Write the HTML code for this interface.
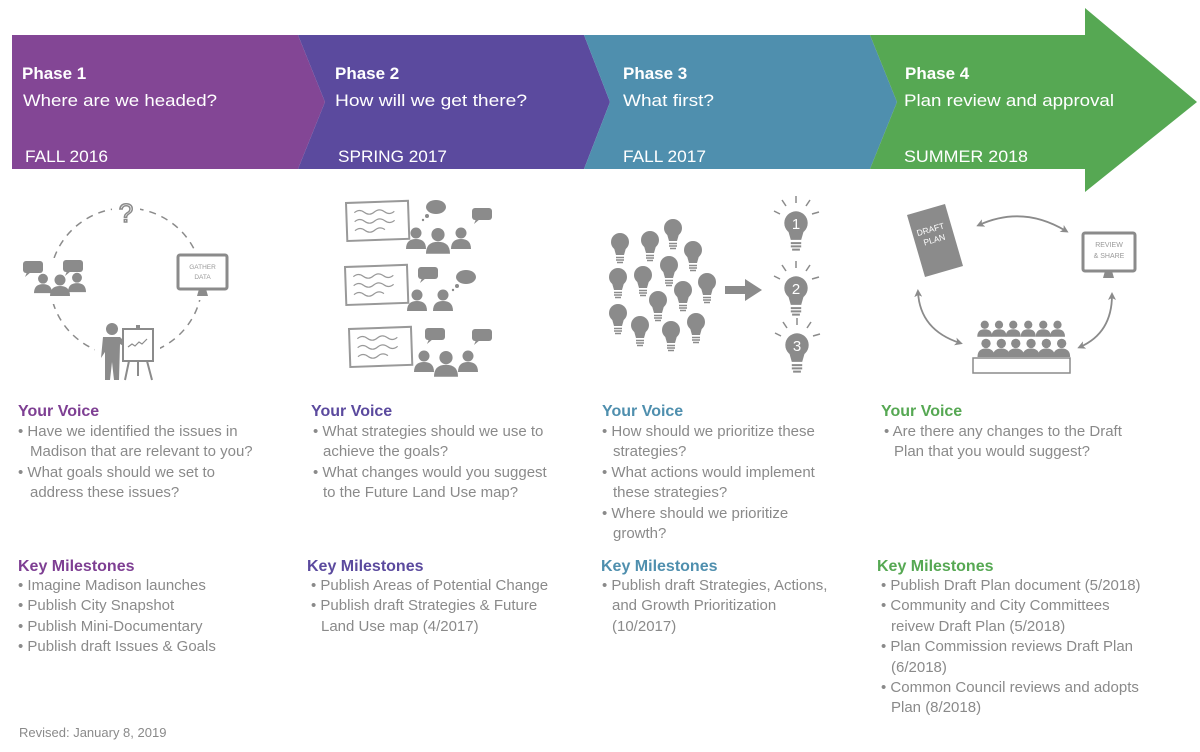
<!DOCTYPE html>
<html><head><meta charset="utf-8"><style>
html,body{margin:0;padding:0;background:#fff;}
svg{display:block;}
.h{font-family:"Liberation Sans",sans-serif;fill:#fff;}
.t{font-family:"Liberation Sans",sans-serif;font-size:15px;fill:#8a8a8a;}
.b{font-family:"Liberation Sans",sans-serif;font-size:16px;font-weight:bold;}
</style></head><body>
<svg width="1200" height="752" viewBox="0 0 1200 752" xmlns="http://www.w3.org/2000/svg">
<defs>
<g id="p"><circle cx="0" cy="-7" r="5.5" fill="#8b8b8b"/><path d="M-10,9 Q-10,-1 0,-1 Q10,-1 10,9 Z" fill="#8b8b8b"/></g>
<g id="bulb"><circle cx="0" cy="0" r="9" fill="#8b8b8b"/><path d="M-6,6 L-4,13 L4,13 L6,6 Z" fill="#8b8b8b"/><path d="M-4,15.5 H4 M-4,18 H4 M-3,20.5 H3" stroke="#8b8b8b" stroke-width="1.5"/></g>
<g id="sb"><rect x="-10" y="-6" width="20" height="12" rx="3" fill="#8b8b8b"/><path d="M-6,5 L-8,10 L-2,5 Z" fill="#8b8b8b"/></g>
<g id="tb"><ellipse cx="0" cy="0" rx="10" ry="7" fill="#8b8b8b"/><circle cx="-9" cy="9" r="2" fill="#8b8b8b"/><circle cx="-13" cy="13" r="1.2" fill="#8b8b8b"/></g>
<g id="board"><rect x="0" y="0" width="62" height="38" fill="#fff" stroke="#999" stroke-width="2"/><path d="M8,10 q5,-4 10,0 t10,0 t10,0 t10,0 M8,19 q5,-4 10,0 t10,0 t10,0 t10,0 M8,28 q5,-4 10,0 t10,0 t10,0" fill="none" stroke="#999" stroke-width="1.2"/></g>
<marker id="ah" markerWidth="8" markerHeight="8" refX="5" refY="4" orient="auto-start-reverse" markerUnits="userSpaceOnUse"><path d="M0,0 L8,4 L0,8 L2,4 Z" fill="#8b8b8b"/></marker>
</defs>

<!-- banner -->
<polygon points="12,35 298,35 325,102 298,169 12,169" fill="#834695"/>
<polygon points="298,35 584,35 610,102 584,169 298,169 325,102" fill="#5b4a9e"/>
<polygon points="584,35 870,35 897,102 870,169 584,169 610,102" fill="#4f8fae"/>
<polygon points="870,35 1085,35 1085,8 1197,102 1085,192 1085,169 870,169 897,102" fill="#56a853"/>

<text class="h" x="22" y="79" font-size="17" font-weight="bold">Phase 1</text>
<text class="h" x="23" y="106" font-size="17" textLength="194" lengthAdjust="spacingAndGlyphs">Where are we headed?</text>
<text class="h" x="25" y="162" font-size="17" textLength="83" lengthAdjust="spacingAndGlyphs">FALL 2016</text>
<text class="h" x="335" y="79" font-size="17" font-weight="bold">Phase 2</text>
<text class="h" x="335" y="106" font-size="17" textLength="192" lengthAdjust="spacingAndGlyphs">How will we get there?</text>
<text class="h" x="338" y="162" font-size="17" textLength="109" lengthAdjust="spacingAndGlyphs">SPRING 2017</text>
<text class="h" x="623" y="79" font-size="17" font-weight="bold">Phase 3</text>
<text class="h" x="623" y="106" font-size="17" textLength="91" lengthAdjust="spacingAndGlyphs">What first?</text>
<text class="h" x="623" y="162" font-size="17" textLength="83" lengthAdjust="spacingAndGlyphs">FALL 2017</text>
<text class="h" x="905" y="79" font-size="17" font-weight="bold">Phase 4</text>
<text class="h" x="904" y="106" font-size="17" textLength="210" lengthAdjust="spacingAndGlyphs">Plan review and approval</text>
<text class="h" x="904" y="162" font-size="17" textLength="124" lengthAdjust="spacingAndGlyphs">SUMMER 2018</text>

<!-- col1 icon -->
<ellipse cx="126" cy="282" rx="76" ry="74" fill="none" stroke="#8b8b8b" stroke-width="1.5" stroke-dasharray="7,6"/>
<rect x="112" y="198" width="28" height="28" fill="#fff"/>
<text x="126" y="222" font-family="Liberation Sans,sans-serif" font-size="26" fill="#fff" stroke="#8b8b8b" stroke-width="1.5" text-anchor="middle">?</text>
<rect x="20" y="258" width="68" height="46" fill="#fff"/>
<use href="#sb" x="33" y="267"/><use href="#sb" x="73" y="266"/>
<g transform="translate(43,285) scale(0.9)"><use href="#p"/></g>
<g transform="translate(77,284) scale(0.9)"><use href="#p"/></g>
<g transform="translate(60,287)"><use href="#p"/></g>
<rect x="172" y="250" width="60" height="50" fill="#fff"/>
<rect x="178" y="255" width="49" height="34" rx="2" fill="#fff" stroke="#8b8b8b" stroke-width="3"/>
<path d="M199,289 L206,289 L208,296 L197,296 Z" fill="#8b8b8b"/>
<text x="202.5" y="269" font-family="Liberation Sans,sans-serif" font-size="6.5" fill="#999" text-anchor="middle">GATHER</text>
<text x="202.5" y="279" font-family="Liberation Sans,sans-serif" font-size="6.5" fill="#999" text-anchor="middle">DATA</text>
<rect x="95" y="318" width="65" height="64" fill="#fff"/>
<circle cx="112" cy="329" r="6" fill="#8b8b8b"/>
<path d="M103,337 L120,337 L128,345 L127,348 L120,344 L119,380 L114,380 L112,362 L110,380 L105,380 L105,352 L101,358 Z" fill="#8b8b8b"/>
<rect x="123" y="329" width="30" height="32" fill="#fff" stroke="#8b8b8b" stroke-width="2"/>
<rect x="136" y="325" width="4" height="4" fill="#8b8b8b"/>
<path d="M128,347 l4,-3 l3,2 l4,-4 l3,2 l5,-5" fill="none" stroke="#8b8b8b" stroke-width="1.2"/>
<path d="M129,361 L125,380 M147,361 L152,380 M138,361 L138,376" stroke="#8b8b8b" stroke-width="2"/>

<!-- col2 icon -->
<g transform="translate(346,203) rotate(-2)"><use href="#board"/></g>
<use href="#tb" x="436" y="207"/><use href="#sb" x="482" y="214"/>
<use href="#p" x="416" y="240"/><use href="#p" x="461" y="240"/>
<g transform="translate(438,243) scale(1.2)"><use href="#p"/></g>
<g transform="translate(345,267) rotate(-2)"><use href="#board"/></g>
<use href="#sb" x="428" y="273"/><use href="#tb" x="466" y="277"/>
<use href="#p" x="417" y="302"/><use href="#p" x="443" y="302"/>
<g transform="translate(349,329) rotate(-2)"><use href="#board"/></g>
<use href="#sb" x="435" y="334"/><use href="#sb" x="482" y="335"/>
<use href="#p" x="424" y="363"/><use href="#p" x="468" y="363"/>
<g transform="translate(446,366) scale(1.2)"><use href="#p"/></g>

<!-- col3 icon -->
<use href="#bulb" x="620" y="242"/><use href="#bulb" x="650" y="240"/><use href="#bulb" x="673" y="228"/><use href="#bulb" x="693" y="250"/>
<use href="#bulb" x="618" y="277"/><use href="#bulb" x="643" y="275"/><use href="#bulb" x="669" y="265"/><use href="#bulb" x="707" y="282"/>
<use href="#bulb" x="683" y="290"/><use href="#bulb" x="658" y="300"/><use href="#bulb" x="618" y="313"/><use href="#bulb" x="640" y="325"/>
<use href="#bulb" x="671" y="330"/><use href="#bulb" x="696" y="322"/>
<path d="M725,286 H745 V279 L762,290 L745,301 V294 H725 Z" fill="#8b8b8b"/>
<g transform="translate(796,223) scale(1.3)"><use href="#bulb"/></g>
<g transform="translate(796,288) scale(1.3)"><use href="#bulb"/></g>
<g transform="translate(797,345) scale(1.3)"><use href="#bulb"/></g>
<g stroke="#8b8b8b" stroke-width="1.5">
<path d="M780,214 l-6,-3 M786,206 l-4,-6 M796,203 v-7 M806,206 l4,-6 M812,214 l7,-2"/>
<path d="M780,279 l-6,-3 M786,271 l-4,-6 M796,268 v-7 M806,271 l4,-6 M812,279 l7,-2"/>
<path d="M781,336 l-6,-3 M787,328 l-4,-6 M797,325 v-7 M807,328 l4,-6 M813,336 l7,-2"/>
</g>
<g font-family="Liberation Sans,sans-serif" font-size="15" fill="#fff" text-anchor="middle">
<text x="796" y="229">1</text><text x="796" y="294">2</text><text x="797" y="351">3</text></g>

<!-- col4 icon -->
<polygon points="907,215 945,204 963,266 925,277" fill="#8b8b8b"/>
<g transform="translate(932,232) rotate(-16)" font-family="Liberation Sans,sans-serif" font-size="8.5" fill="#fff"><text x="-15" y="0">DRAFT</text><text x="-11" y="11">PLAN</text></g>
<rect x="1083" y="233" width="52" height="38" rx="2" fill="#fff" stroke="#8b8b8b" stroke-width="3"/>
<path d="M1105,271 L1112,271 L1114,278 L1103,278 Z" fill="#8b8b8b"/>
<text x="1109" y="247" font-family="Liberation Sans,sans-serif" font-size="7" fill="#999" text-anchor="middle">REVIEW</text>
<text x="1109" y="258" font-family="Liberation Sans,sans-serif" font-size="7" fill="#999" text-anchor="middle">&amp; SHARE</text>
<g fill="none" stroke="#8b8b8b" stroke-width="1.8">
<path d="M979,225 Q1023,205 1066,231" marker-start="url(#ah)" marker-end="url(#ah)"/>
<path d="M918,292 Q920,330 960,343" marker-start="url(#ah)" marker-end="url(#ah)"/>
<path d="M1112,295 Q1112,333 1080,347" marker-start="url(#ah)" marker-end="url(#ah)"/>
</g>
<g transform="scale(0.75)">
<use href="#p" x="1313" y="440"/><use href="#p" x="1332" y="440"/><use href="#p" x="1351" y="440"/><use href="#p" x="1371" y="440"/><use href="#p" x="1391" y="440"/><use href="#p" x="1410" y="440"/>
</g>
<g transform="scale(0.85)">
<use href="#p" x="1160" y="411"/><use href="#p" x="1178" y="411"/><use href="#p" x="1195" y="411"/><use href="#p" x="1213" y="411"/><use href="#p" x="1231" y="411"/><use href="#p" x="1249" y="411"/>
</g>
<rect x="973" y="358" width="97" height="15" fill="#fff" stroke="#8b8b8b" stroke-width="1.5"/>

<!-- text columns -->
<g class="b" fill="#7e3f93"><text x="18" y="416">Your Voice</text><text x="18" y="571">Key Milestones</text></g>
<g class="b" fill="#5b4a9e"><text x="311" y="416">Your Voice</text><text x="307" y="571">Key Milestones</text></g>
<g class="b" fill="#4f8fae"><text x="602" y="416">Your Voice</text><text x="601" y="571">Key Milestones</text></g>
<g class="b" fill="#56a853"><text x="881" y="416">Your Voice</text><text x="877" y="571">Key Milestones</text></g>

<g class="t">
<text x="18" y="436">• Have we identified the issues in</text>
<text x="30" y="456">Madison that are relevant to you?</text>
<text x="18" y="477">• What goals should we set to</text>
<text x="30" y="497">address these issues?</text>
<text x="18" y="590">• Imagine Madison launches</text>
<text x="18" y="610">• Publish City Snapshot</text>
<text x="18" y="631">• Publish Mini-Documentary</text>
<text x="18" y="651">• Publish draft Issues &amp; Goals</text>

<text x="313" y="436">• What strategies should we use to</text>
<text x="323" y="456">achieve the goals?</text>
<text x="313" y="477">• What changes would you suggest</text>
<text x="323" y="497">to the Future Land Use map?</text>
<text x="311" y="590">• Publish Areas of Potential Change</text>
<text x="311" y="610">• Publish draft Strategies &amp; Future</text>
<text x="321" y="631">Land Use map (4/2017)</text>

<text x="602" y="436">• How should we prioritize these</text>
<text x="613" y="456">strategies?</text>
<text x="602" y="477">• What actions would implement</text>
<text x="613" y="497">these strategies?</text>
<text x="602" y="518">• Where should we prioritize</text>
<text x="613" y="538">growth?</text>
<text x="602" y="590">• Publish draft Strategies, Actions,</text>
<text x="612" y="610">and Growth Prioritization</text>
<text x="612" y="631">(10/2017)</text>

<text x="884" y="436">• Are there any changes to the Draft</text>
<text x="894" y="456">Plan that you would suggest?</text>
<text x="881" y="590">• Publish Draft Plan document  (5/2018)</text>
<text x="881" y="610">• Community and City Committees</text>
<text x="891" y="631">reivew Draft Plan (5/2018)</text>
<text x="881" y="651">• Plan Commission reviews Draft Plan</text>
<text x="891" y="672">(6/2018)</text>
<text x="881" y="692">• Common Council reviews and adopts</text>
<text x="891" y="712">Plan (8/2018)</text>

<text x="19" y="737" font-size="13">Revised: January 8, 2019</text>
</g>
</svg>
</body></html>
